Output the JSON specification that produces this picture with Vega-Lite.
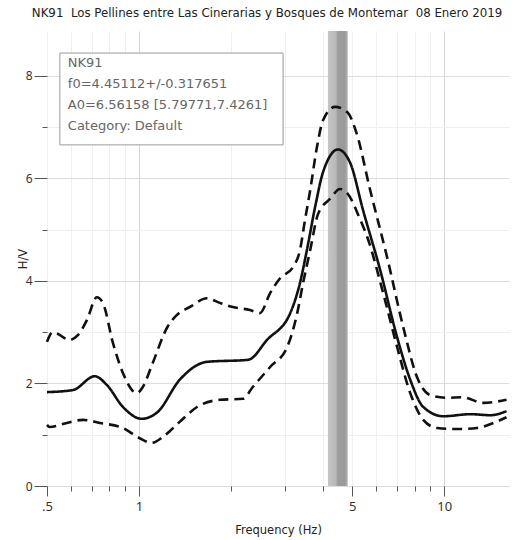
{
  "$schema": "https://vega.github.io/schema/vega-lite/v6.json",
  "width": 462,
  "height": 455,
  "autosize": "none",
  "padding": {"left": 47, "top": 31, "right": 15, "bottom": 54},
  "background": "white",
  "config": {
    "font": "Noto Sans",
    "view": {"stroke": null}
  },
  "title": {
    "text": "NK91\u00a0\u00a0Los Pellines entre Las Cinerarias y Bosques de Montemar\u00a0\u00a008 Enero 2019",
    "font": "DejaVu Sans",
    "fontSize": 11.8,
    "fontWeight": "normal",
    "color": "#222",
    "anchor": "middle",
    "dx": -11,
    "offset": 11
  },
  "datasets": {
    "curves": [
      {"f": 0.5, "hv": 1.83, "s": "mean"},
      {"f": 0.608, "hv": 1.87, "s": "mean"},
      {"f": 0.717, "hv": 2.14, "s": "mean"},
      {"f": 0.785, "hv": 1.97, "s": "mean"},
      {"f": 0.887, "hv": 1.54, "s": "mean"},
      {"f": 1.02, "hv": 1.31, "s": "mean"},
      {"f": 1.15, "hv": 1.44, "s": "mean"},
      {"f": 1.36, "hv": 2.07, "s": "mean"},
      {"f": 1.67, "hv": 2.42, "s": "mean"},
      {"f": 2.28, "hv": 2.46, "s": "mean"},
      {"f": 2.63, "hv": 2.85, "s": "mean"},
      {"f": 3.13, "hv": 3.37, "s": "mean"},
      {"f": 3.37, "hv": 3.96, "s": "mean"},
      {"f": 3.55, "hv": 4.6, "s": "mean"},
      {"f": 3.78, "hv": 5.45, "s": "mean"},
      {"f": 4.01, "hv": 6.12, "s": "mean"},
      {"f": 4.49, "hv": 6.56, "s": "mean"},
      {"f": 4.92, "hv": 6.3, "s": "mean"},
      {"f": 5.42, "hv": 5.38, "s": "mean"},
      {"f": 6.17, "hv": 4.21, "s": "mean"},
      {"f": 7.01, "hv": 2.9, "s": "mean"},
      {"f": 7.74, "hv": 2.07, "s": "mean"},
      {"f": 8.54, "hv": 1.54, "s": "mean"},
      {"f": 9.93, "hv": 1.36, "s": "mean"},
      {"f": 12.2, "hv": 1.4, "s": "mean"},
      {"f": 14.2, "hv": 1.38, "s": "mean"},
      {"f": 16.0, "hv": 1.46, "s": "mean"},

      {"f": 0.5, "hv": 2.81, "s": "upper"},
      {"f": 0.522, "hv": 3.0, "s": "upper"},
      {"f": 0.594, "hv": 2.85, "s": "upper"},
      {"f": 0.631, "hv": 2.94, "s": "upper"},
      {"f": 0.676, "hv": 3.24, "s": "upper"},
      {"f": 0.728, "hv": 3.68, "s": "upper"},
      {"f": 0.762, "hv": 3.57, "s": "upper"},
      {"f": 0.822, "hv": 2.79, "s": "upper"},
      {"f": 0.887, "hv": 2.2, "s": "upper"},
      {"f": 0.985, "hv": 1.81, "s": "upper"},
      {"f": 1.03, "hv": 1.93, "s": "upper"},
      {"f": 1.11, "hv": 2.4, "s": "upper"},
      {"f": 1.24, "hv": 3.1, "s": "upper"},
      {"f": 1.33, "hv": 3.33, "s": "upper"},
      {"f": 1.47, "hv": 3.49, "s": "upper"},
      {"f": 1.67, "hv": 3.66, "s": "upper"},
      {"f": 1.84, "hv": 3.57, "s": "upper"},
      {"f": 2.03, "hv": 3.49, "s": "upper"},
      {"f": 2.31, "hv": 3.43, "s": "upper"},
      {"f": 2.49, "hv": 3.37, "s": "upper"},
      {"f": 2.69, "hv": 3.76, "s": "upper"},
      {"f": 2.9, "hv": 4.05, "s": "upper"},
      {"f": 3.2, "hv": 4.27, "s": "upper"},
      {"f": 3.37, "hv": 4.6, "s": "upper"},
      {"f": 3.5, "hv": 5.19, "s": "upper"},
      {"f": 3.64, "hv": 5.77, "s": "upper"},
      {"f": 3.83, "hv": 6.61, "s": "upper"},
      {"f": 4.01, "hv": 7.13, "s": "upper"},
      {"f": 4.39, "hv": 7.39, "s": "upper"},
      {"f": 4.81, "hv": 7.29, "s": "upper"},
      {"f": 5.15, "hv": 6.9, "s": "upper"},
      {"f": 5.72, "hv": 5.77, "s": "upper"},
      {"f": 6.5, "hv": 4.46, "s": "upper"},
      {"f": 7.34, "hv": 3.1, "s": "upper"},
      {"f": 8.15, "hv": 2.12, "s": "upper"},
      {"f": 9.0, "hv": 1.77, "s": "upper"},
      {"f": 10.2, "hv": 1.72, "s": "upper"},
      {"f": 11.5, "hv": 1.73, "s": "upper"},
      {"f": 13.4, "hv": 1.62, "s": "upper"},
      {"f": 16.0, "hv": 1.68, "s": "upper"},

      {"f": 0.5, "hv": 1.19, "s": "lower"},
      {"f": 0.51, "hv": 1.15, "s": "lower"},
      {"f": 0.581, "hv": 1.23, "s": "lower"},
      {"f": 0.655, "hv": 1.29, "s": "lower"},
      {"f": 0.745, "hv": 1.23, "s": "lower"},
      {"f": 0.887, "hv": 1.13, "s": "lower"},
      {"f": 1.0, "hv": 0.94, "s": "lower"},
      {"f": 1.1, "hv": 0.84, "s": "lower"},
      {"f": 1.2, "hv": 0.96, "s": "lower"},
      {"f": 1.36, "hv": 1.25, "s": "lower"},
      {"f": 1.55, "hv": 1.54, "s": "lower"},
      {"f": 1.84, "hv": 1.68, "s": "lower"},
      {"f": 2.19, "hv": 1.7, "s": "lower"},
      {"f": 2.36, "hv": 1.93, "s": "lower"},
      {"f": 2.69, "hv": 2.32, "s": "lower"},
      {"f": 3.06, "hv": 2.71, "s": "lower"},
      {"f": 3.3, "hv": 3.37, "s": "lower"},
      {"f": 3.45, "hv": 3.96, "s": "lower"},
      {"f": 3.64, "hv": 4.6, "s": "lower"},
      {"f": 3.86, "hv": 5.3, "s": "lower"},
      {"f": 4.23, "hv": 5.6, "s": "lower"},
      {"f": 4.56, "hv": 5.79, "s": "lower"},
      {"f": 4.81, "hv": 5.71, "s": "lower"},
      {"f": 5.31, "hv": 5.19, "s": "lower"},
      {"f": 5.6, "hv": 4.85, "s": "lower"},
      {"f": 6.31, "hv": 3.76, "s": "lower"},
      {"f": 7.01, "hv": 2.71, "s": "lower"},
      {"f": 7.74, "hv": 1.81, "s": "lower"},
      {"f": 8.54, "hv": 1.29, "s": "lower"},
      {"f": 9.48, "hv": 1.13, "s": "lower"},
      {"f": 11.0, "hv": 1.11, "s": "lower"},
      {"f": 12.8, "hv": 1.13, "s": "lower"},
      {"f": 14.5, "hv": 1.23, "s": "lower"},
      {"f": 16.0, "hv": 1.34, "s": "lower"}
    ],
    "band": [{"f1": 4.16, "f2": 4.83, "y1": 0, "y2": 8.87}],
    "info": [{"lines": ["NK91", "f0=4.45112+/-0.317651", "A0=6.56158 [5.79771,7.4261]", "Category: Default"]}]
  },
  "data": {"name": "curves"},
  "layer": [
    {
      "mark": {"type": "rule", "opacity": 0},
      "encoding": {
        "x": {
          "datum": 1,
          "type": "quantitative",
          "scale": {"type": "log", "domain": [0.5, 16.3], "nice": false},
          "axis": {
            "title": "Frequency (Hz)",
            "titleFont": "DejaVu Sans",
            "titleFontSize": 11.5,
            "titleFontWeight": "normal",
            "titleColor": "#222",
            "titlePadding": 11,
            "values": [0.5, 0.6, 0.7, 0.8, 0.9, 1, 2, 3, 4, 5, 6, 7, 8, 9, 10],
            "labelExpr": "datum.value == 0.5 ? '.5' : (datum.value == 1 || datum.value == 5 || datum.value == 10) ? datum.label : ''",
            "labelFontSize": 13,
            "labelColor": "#333",
            "labelPadding": 4,
            "labelFlush": false,
            "labelOverlap": false,
            "domain": false,
            "tickColor": "#555",
            "tickSize": {"condition": {"test": "datum.value == 0.5 || datum.value == 1 || datum.value == 5 || datum.value == 10", "value": 10}, "value": 5},
            "grid": true,
            "gridColor": {"condition": {"test": "datum.value == 1 || datum.value == 10", "value": "#d4d4d4"}, "value": "#efefef"}
          }
        },
        "y": {
          "datum": 0,
          "type": "quantitative",
          "scale": {"domain": [0, 8.87], "nice": false},
          "axis": {
            "title": "H/V",
            "titleFont": "DejaVu Sans",
            "titleFontSize": 11.5,
            "titleFontWeight": "normal",
            "titleColor": "#222",
            "titleX": -19,
            "values": [0, 0.5, 1, 1.5, 2, 2.5, 3, 3.5, 4, 4.5, 5, 5.5, 6, 6.5, 7, 7.5, 8, 8.5],
            "labelExpr": "datum.value % 2 == 0 ? datum.label : ''",
            "labelFontSize": 12,
            "labelColor": "#333",
            "labelPadding": 2,
            "labelFlush": false,
            "labelOverlap": false,
            "domain": false,
            "tickColor": "#555",
            "tickSize": {"condition": {"test": "datum.value % 2 == 0", "value": 13}, "value": 5},
            "grid": true,
            "gridColor": {"condition": {"test": "datum.value % 2 == 0", "value": "#dddddd"}, "value": "#efefef"}
          }
        }
      }
    },
    {
      "data": {"name": "band"},
      "mark": {
        "type": "rect",
        "color": {
          "gradient": "linear",
          "x1": 0, "x2": 1, "y1": 0, "y2": 0,
          "stops": [
            {"offset": 0, "color": "#c6c6c6"},
            {"offset": 0.4, "color": "#b8b8b8"},
            {"offset": 0.5, "color": "#9c9c9c"},
            {"offset": 0.85, "color": "#9a9a9a"},
            {"offset": 1, "color": "#b5b5b5"}
          ]
        }
      },
      "encoding": {
        "x": {"field": "f1", "type": "quantitative"},
        "x2": {"field": "f2"},
        "y": {"field": "y1", "type": "quantitative"},
        "y2": {"field": "y2"}
      }
    },
    {
      "mark": {"type": "line", "color": "#111", "strokeWidth": 2.6, "interpolate": "monotone"},
      "encoding": {
        "x": {"field": "f", "type": "quantitative"},
        "y": {"field": "hv", "type": "quantitative"},
        "strokeDash": {
          "field": "s",
          "type": "nominal",
          "scale": {"domain": ["mean", "upper", "lower"], "range": [[1, 0], [10, 6], [10, 6]]},
          "legend": null
        }
      }
    },
    {
      "data": {"name": "info"},
      "mark": {"type": "rect", "fill": "#555", "xOffset": 2, "yOffset": 2},
      "encoding": {
        "x": {"datum": 0.551, "type": "quantitative"},
        "x2": {"datum": 2.966},
        "y": {"datum": 8.44, "type": "quantitative"},
        "y2": {"datum": 6.65}
      }
    },
    {
      "data": {"name": "info"},
      "mark": {"type": "rect", "fill": "white", "stroke": "#9a9a9a", "strokeWidth": 1},
      "encoding": {
        "x": {"datum": 0.551, "type": "quantitative"},
        "x2": {"datum": 2.966},
        "y": {"datum": 8.44, "type": "quantitative"},
        "y2": {"datum": 6.65}
      }
    },
    {
      "data": {"name": "info"},
      "mark": {"type": "text", "align": "left", "baseline": "top", "font": "DejaVu Sans", "fontSize": 13, "lineHeight": 21, "color": "#666"},
      "encoding": {
        "x": {"datum": 0.585, "type": "quantitative"},
        "y": {"datum": 8.37, "type": "quantitative"},
        "text": {"field": "lines"}
      }
    }
  ]
}
